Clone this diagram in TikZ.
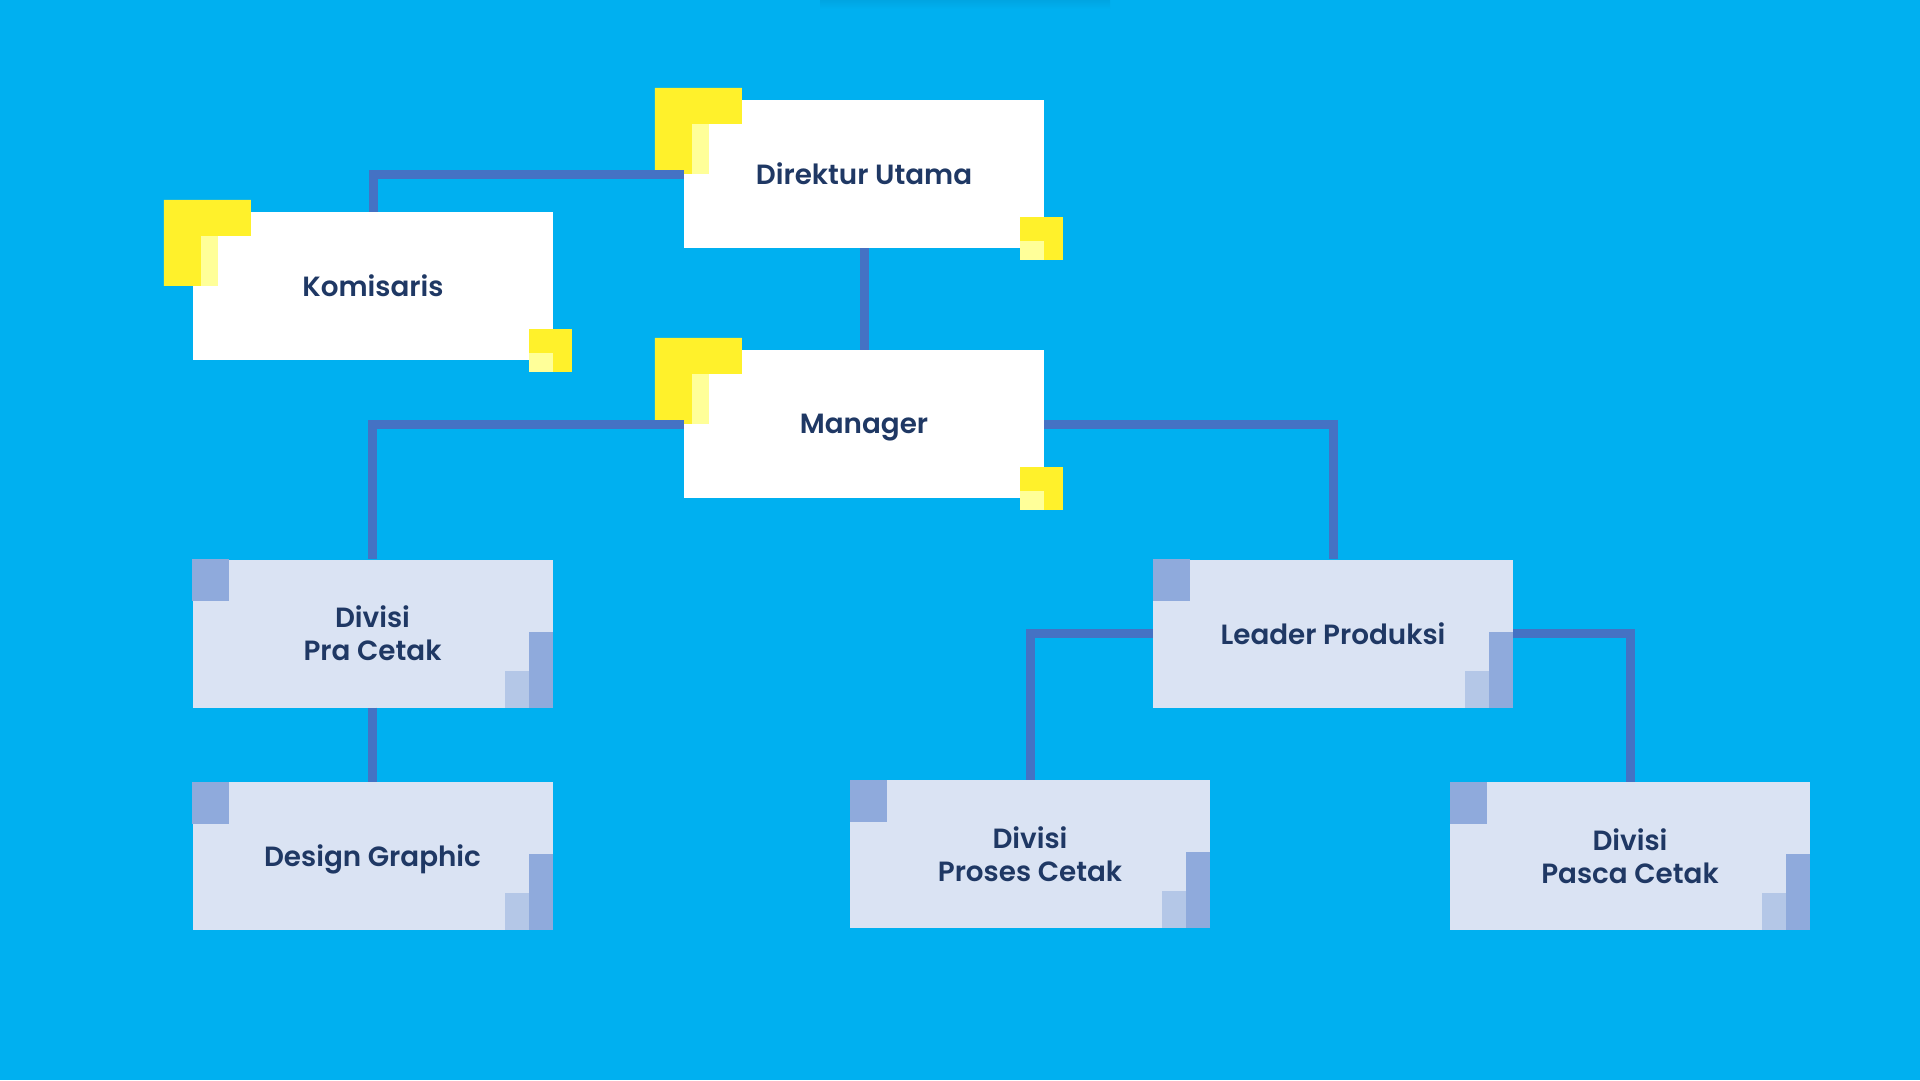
\documentclass[tikz,border=0pt]{standalone}
\usepackage{fontspec}
\setmainfont{Poppins}[BoldFont={Poppins SemiBold}]
\usepackage{tikz}

\definecolor{bg}{HTML}{00B0F0}
\definecolor{shadow}{HTML}{00A5E2}
\definecolor{yel}{HTML}{FFF12B}
\definecolor{lyel}{HTML}{FFFF99}
\definecolor{pale}{HTML}{DAE3F3}
\definecolor{cor}{HTML}{8FAADC}
\definecolor{lcor}{HTML}{B4C7E7}
\definecolor{txt}{HTML}{1F3864}
\definecolor{link}{HTML}{4472C4}

\begin{document}
\begin{tikzpicture}[x=1pt,y=-1pt]
	\tikzset{box/.style={minimum width=360pt, minimum height=148pt, inner sep=0pt,
		align=center, text=txt, text depth=0pt, font=\fontsize{27.8}{33}\selectfont\bfseries}}
	\tikzset{topbox/.style={box, fill=white}}
	\tikzset{subbox/.style={box, fill=pale}}
	\tikzset{conn/.style={draw=link, line width=9pt}}

	\fill[bg] (0,0) rectangle (1920,1080);
	\shade[top color=shadow, bottom color=bg] (820,0) rectangle (1110,9);

	\node[topbox] (dir) at (864,174) {Direktur Utama};
	\node[topbox] (kom) at (373,286) {Komisaris};
	\node[topbox] (man) at (864,424) {Manager};

	\node[subbox] (pra) at (372.5,633.5) {Divisi\\Pra Cetak};
	\node[subbox] (lead) at (1333,633.5) {Leader Produksi};
	\node[subbox] (dg) at (372.5,856) {Design Graphic};
	\node[subbox] (pro) at (1030,854) {Divisi\\Proses Cetak};
	\node[subbox] (pas) at (1630,856) {Divisi\\Pasca Cetak};

	% yellow corners
	\foreach \n in {dir,kom,man} {
		\begin{scope}[shift={(\n.north west)}]
			\fill[yel] (-29,-12) -- (58,-12) -- (58,24) -- (8,24) -- (8,74) -- (-29,74) -- cycle;
			\fill[lyel] (8,24) rectangle (25,74);
		\end{scope}
		\begin{scope}[shift={(\n.south east)}]
			\fill[yel] (-24,-31) rectangle (19,12);
			\fill[lyel] (-24,-7) rectangle (0,12);
		\end{scope}
	}

	% blue corners
	\foreach \n in {pra,lead,dg,pro,pas} {
		\fill[cor] (\n.north west) rectangle ++(37,42);
		\begin{scope}[shift={(\n.south east)}]
			\fill[cor] (-24,-76) rectangle (0,0);
			\fill[lcor] (-48,-37) rectangle (-24,0);
		\end{scope}
	}

	\draw[conn] (dir.west) -| (kom.north);
	\draw[conn] (dir.south) -- (man.north);
	\draw[conn] (man.west) -| (pra.north);
	\draw[conn] (man.east) -| (lead.north);
	\draw[conn] (pra.south) -- (dg.north);
	\draw[conn] (lead.west) -| (pro.north);
	\draw[conn] (lead.east) -| (pas.north);
\end{tikzpicture}
\end{document}
